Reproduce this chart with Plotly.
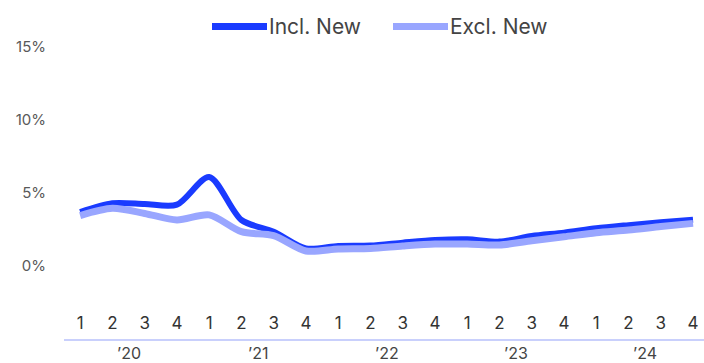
import plotly.graph_objects as go

# Quarterly series, 2020 Q1 – 2024 Q4 (percent)
quarters = ["1", "2", "3", "4"] * 5
years = ["’20", "’21", "’22", "’23", "’24"]
incl_new = [3.7, 4.3, 4.25, 4.2, 6.1, 3.15, 2.35, 1.2, 1.37, 1.4,
            1.6, 1.78, 1.83, 1.67, 2.05, 2.28, 2.58, 2.8, 3.0, 3.17]
excl_new = [3.45, 3.95, 3.6, 3.15, 3.5, 2.35, 2.08, 1.03, 1.16, 1.2,
            1.37, 1.5, 1.5, 1.44, 1.73, 2.0, 2.28, 2.46, 2.7, 2.92]
y_ticks = [0, 5, 10, 15]

INCL_COLOR = "#1a3bff"
EXCL_COLOR = "#99a6ff"
AXIS_COLOR = "#c9d0fc"
FONT = "Inter, Roboto, sans-serif"

x = list(range(len(quarters)))

fig = go.Figure()
fig.add_trace(go.Scatter(
    x=x, y=incl_new, mode="lines", name="Incl. New",
    line=dict(color=INCL_COLOR, width=6, shape="spline", smoothing=0.8),
    hoverinfo="skip",
))
fig.add_trace(go.Scatter(
    x=x, y=excl_new, mode="lines", name="Excl. New",
    line=dict(color=EXCL_COLOR, width=7, shape="spline", smoothing=0.8),
    hoverinfo="skip",
))

L, T, PW, PH = 64, 40, 640, 299

# Year labels under the axis line, centred on each group of quarters
annotations = []
for i, yr in enumerate(years):
    annotations.append(dict(
        x=i * 4 + 1.5, y=-14 / PH, xref="x", yref="paper",
        text=yr, showarrow=False, yanchor="middle", borderpad=0,
        font=dict(family=FONT, size=16, color="#444444"),
    ))

# Custom legend: wide strokes with labels
legend_items = [("Incl. New", INCL_COLOR, 212, 267, 268),
                ("Excl. New", EXCL_COLOR, 393, 448, 449)]
shapes = []
for label, color, x0, x1, tx in legend_items:
    py = (T + PH - 26.5) / PH
    shapes.append(dict(
        type="line", xref="paper", yref="paper",
        x0=(x0 - L) / PW, x1=(x1 - L) / PW, y0=py, y1=py,
        line=dict(color=color, width=7),
    ))
    annotations.append(dict(
        x=(tx - L) / PW, y=py, xref="paper", yref="paper",
        text=label, showarrow=False, xanchor="left", yanchor="middle",
        borderpad=0,
        font=dict(family=FONT, size=21, color="#444444"),
    ))

fig.update_layout(
    width=704, height=363,
    margin=dict(l=L, r=0, t=T, b=24),
    paper_bgcolor="white", plot_bgcolor="white",
    showlegend=False,
    shapes=shapes,
    annotations=annotations,
    xaxis=dict(
        range=[-0.5, 19.34],
        tickmode="array", tickvals=x, ticktext=quarters,
        ticklabelposition="inside", ticks="", ticklabelstandoff=7,
        showgrid=False, zeroline=False,
        showline=True, linecolor=AXIS_COLOR, linewidth=2,
        tickfont=dict(family=FONT, size=17, color="#333333"),
        fixedrange=True,
    ),
    yaxis=dict(
        range=[-5, 15.48],
        tickmode="array", tickvals=y_ticks,
        ticktext=[f"{v}%" for v in y_ticks],
        ticks="outside", ticklen=14, tickcolor="rgba(0,0,0,0)",
        showgrid=False, zeroline=False, showline=False,
        tickfont=dict(family=FONT, size=15, color="#595959"),
        fixedrange=True,
    ),
)

fig.write_html("out.html")
